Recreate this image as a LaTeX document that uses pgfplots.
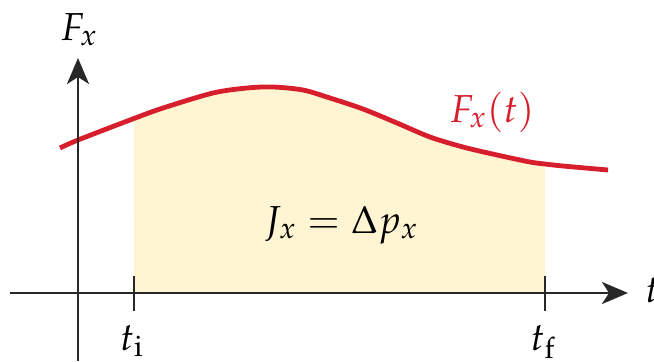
\documentclass[border=0pt]{standalone}
\usepackage{mathpazo}
\usepackage{pgfplots}
\pgfplotsset{compat=1.18}
\usepgfplotslibrary{fillbetween}
\usetikzlibrary{arrows.meta}
\definecolor{curvered}{RGB}{215,30,45}
\definecolor{fillyel}{RGB}{255,245,210}
\definecolor{axdark}{RGB}{40,40,40}
\begin{document}
\begin{tikzpicture}
\begin{axis}[
  x=0.5pt, y=0.5pt,
  axis lines=middle,
  axis on top,
  enlargelimits=false,
  xmin=-68, xmax=550, ymin=-68, ymax=235,
  axis line style={line width=1.3pt, color=axdark, -{Stealth[length=13pt,width=11pt,inset=3.5pt]}},
  xtick={56,467}, ytick=\empty,
  xticklabels={\mbox{},\mbox{}},
  tick align=center,
  major tick length=17.5pt,
  tick style={line width=1.3pt, color=axdark},
  clip=false,
  font=\fontsize{19.5}{22}\selectfont,
]
\addplot[name path=F, draw=curvered, line width=2.4pt, smooth] coordinates {
(-18,145) (0,153) (52,173) (85,185) (135,200) (169,205) (195,206) (225,203)
(252,195) (285,184) (319,170) (352,156) (385,146) (419,138) (452,131)
(467,129) (485,127) (530,123)};
\path[name path=A] (axis cs:-68,0) -- (axis cs:550,0);
\addplot[fill=fillyel, draw=none] fill between[of=F and A, soft clip={domain=56:467}];
\node[anchor=base] at (axis cs:1,253) {$F_x$};
\node[anchor=base, text=curvered] at (axis cs:414,171) {$F_x(t)$};
\node[anchor=base] at (axis cs:263,60) {$J_x = \Delta p_x$};
\node[anchor=base] at (axis cs:54,-57) {$t_{\mathrm{i}}$};
\node[anchor=base] at (axis cs:465,-57) {$t_{\mathrm{f}}$};
\node[anchor=base west, inner sep=0pt] at (axis cs:567,-9) {$t$};
\coordinate (BL) at (axis cs:-78,-68);
\coordinate (TR) at (axis cs:576,293);
\end{axis}
\pgfresetboundingbox
\useasboundingbox (BL) rectangle (TR);
\end{tikzpicture}
\end{document}
